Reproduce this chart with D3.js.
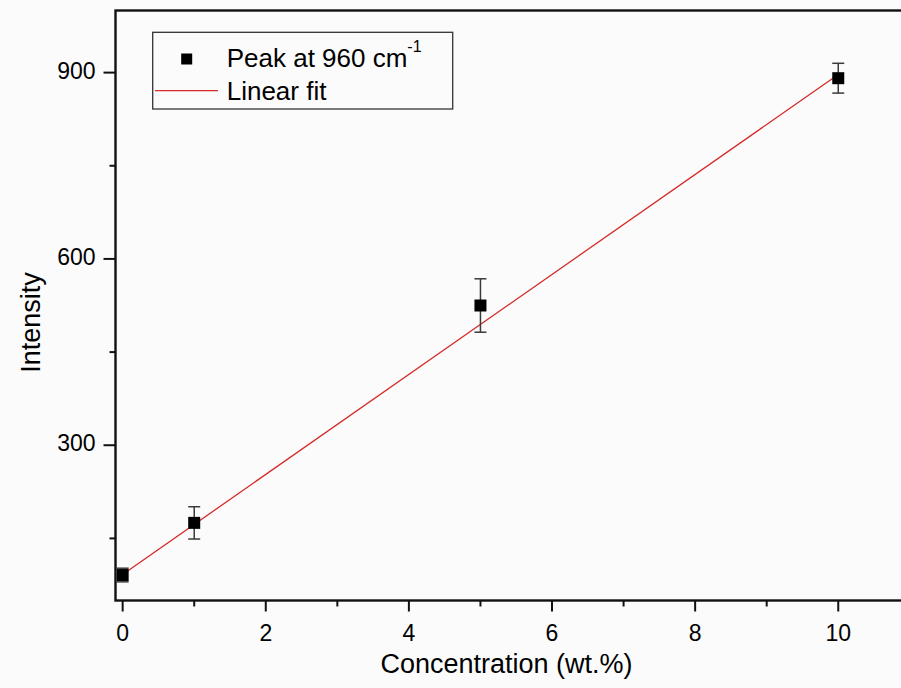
<!DOCTYPE html>
<html>
<head>
<meta charset="utf-8">
<script src="https://cdn.jsdelivr.net/npm/d3@7"></script>
<style>
  body { margin: 0; background: #fbfbfb; }
  svg { display: block; font-family: Arial, "Liberation Sans", sans-serif; }
</style>
</head>
<body>
<svg id="chart"></svg>
<script>
// data
const conc = [0, 1, 5, 10];
const intensity = [91, 175, 525, 891];
const errs = [11, 26, 43, 24];
const fitX = [0, 10];
const fitY = [92, 897];
const xTicks = [0, 2, 4, 6, 8, 10];
const xMinor = [1, 3, 5, 7, 9];
const yTicks = [300, 600, 900];
const yMinor = [150, 450, 750];

const W = 901, H = 688;
const margin = { top: 10.5, left: 115.5, bottom: 87.5 };

const svg = d3.select("#chart").attr("width", W).attr("height", H);

// x: 0 -> 122.7, 10 -> 838.3 (frame runs off the right edge)
const x = d3.scaleLinear().domain([-0.1, 11]).range([margin.left, margin.left + 71.56 * 11.1]);
const y = d3.scaleLinear().domain([50, 1000]).range([H - margin.bottom, margin.top]);

const g = svg.append("g");

// fit line
g.append("path")
    .datum(fitX.map((d, i) => [d, fitY[i]]))
    .attr("d", d3.line().x(d => x(d[0])).y(d => y(d[1])))
    .attr("fill", "none")
    .attr("stroke", "#d42a2a")
    .attr("stroke-width", 1.3);

// error bars
const pts = conc.map((c, i) => ({ c: c, v: intensity[i], e: errs[i] }));
const eb = g.selectAll(".eb").data(pts).enter().append("g").attr("class", "eb")
    .attr("stroke", "#3a3a3a").attr("stroke-width", 1.5);
eb.append("line")
    .attr("x1", d => x(d.c)).attr("x2", d => x(d.c))
    .attr("y1", d => y(d.v - d.e)).attr("y2", d => y(d.v + d.e));
[-1, 1].forEach(s => {
    eb.append("line")
        .attr("x1", d => x(d.c) - 6).attr("x2", d => x(d.c) + 6)
        .attr("y1", d => y(d.v + s * d.e)).attr("y2", d => y(d.v + s * d.e));
});

// markers
g.selectAll(".pt").data(pts).enter().append("rect")
    .attr("x", d => x(d.c) - 6).attr("y", d => y(d.v) - 6)
    .attr("width", 12).attr("height", 12)
    .attr("fill", "#000");

// frame
const x0 = margin.left, x1 = x(11), y0 = y(50), y1 = y(1000);
svg.append("rect")
    .attr("x", x0).attr("y", y1).attr("width", x1 - x0).attr("height", y0 - y1)
    .attr("fill", "none").attr("stroke", "#111").attr("stroke-width", 2.4);

// x ticks
const xt = svg.append("g").attr("stroke", "#111").attr("stroke-width", 2);
xt.selectAll(".maj").data(xTicks).enter().append("line")
    .attr("x1", d => x(d)).attr("x2", d => x(d))
    .attr("y1", y0).attr("y2", y0 + 11);
xt.selectAll(".min").data(xMinor).enter().append("line")
    .attr("x1", d => x(d)).attr("x2", d => x(d))
    .attr("y1", y0).attr("y2", y0 + 6);
svg.selectAll(".xl").data(xTicks).enter().append("text")
    .attr("x", d => x(d)).attr("y", 640.5)
    .attr("text-anchor", "middle")
    .attr("font-size", 23)
    .text(d => d);

// y ticks
const yt = svg.append("g").attr("stroke", "#111").attr("stroke-width", 2);
yt.selectAll(".maj").data(yTicks).enter().append("line")
    .attr("x1", x0 - 12).attr("x2", x0)
    .attr("y1", d => y(d)).attr("y2", d => y(d));
yt.selectAll(".min").data(yMinor).enter().append("line")
    .attr("x1", x0 - 6).attr("x2", x0)
    .attr("y1", d => y(d)).attr("y2", d => y(d));
svg.selectAll(".yl").data(yTicks).enter().append("text")
    .attr("x", 95.5).attr("y", d => y(d) + 6)
    .attr("text-anchor", "end")
    .attr("font-size", 23)
    .text(d => d);

// axis titles
svg.append("text")
    .attr("x", 506.5).attr("y", 673)
    .attr("text-anchor", "middle")
    .attr("font-size", 27)
    .text("Concentration (wt.%)");
svg.append("text")
    .attr("transform", "translate(39.5,322.5) rotate(-90)")
    .attr("text-anchor", "middle")
    .attr("font-size", 27)
    .text("Intensity");

// legend
const lg = svg.append("g");
lg.append("rect")
    .attr("x", 152.7).attr("y", 32.3).attr("width", 300).attr("height", 76.7)
    .attr("fill", "none").attr("stroke", "#333").attr("stroke-width", 1.3);
lg.append("rect")
    .attr("x", 186.7 - 5.5).attr("y", 59 - 5.5).attr("width", 11).attr("height", 11)
    .attr("fill", "#000");
lg.append("line")
    .attr("x1", 155).attr("x2", 218).attr("y1", 90.7).attr("y2", 90.7)
    .attr("stroke", "#d42a2a").attr("stroke-width", 1.3);
const t1 = lg.append("text").attr("x", 226.7).attr("y", 66.7).attr("font-size", 26);
t1.append("tspan").text("Peak at 960 cm");
t1.append("tspan").attr("font-size", 16).attr("dy", -15).text("-1");
lg.append("text").attr("x", 226.7).attr("y", 100).attr("font-size", 26).text("Linear fit");
</script>
</body>
</html>
